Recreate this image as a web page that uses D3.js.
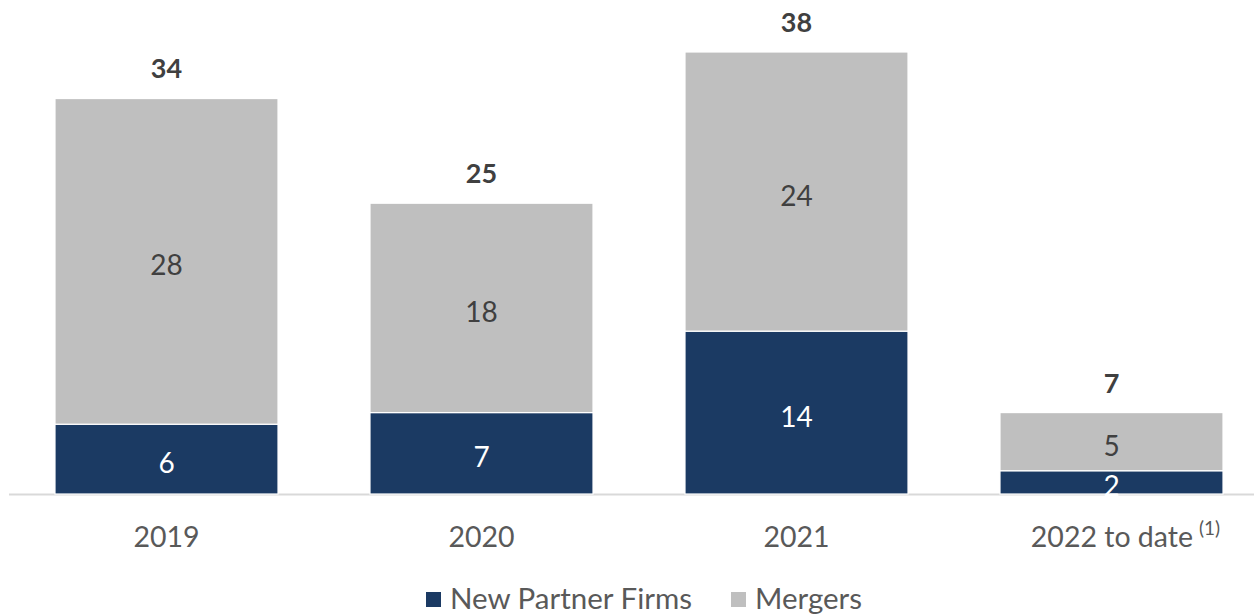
<!DOCTYPE html>
<html>
<head>
<meta charset="utf-8">
<script src="https://cdn.jsdelivr.net/npm/d3@7"></script>
<style>
  html, body { margin: 0; padding: 0; background: #fff; }
  svg { display: block; }
  text { font-family: Lato, "Open Sans", sans-serif; }
</style>
</head>
<body>
<div id="chart"></div>
<script>
const categories = ["2019", "2020", "2021", "2022 to date"];
const categoryNotes = ["", "", "", "(1)"];
const newPartnerFirms = [6, 7, 14, 2];
const mergers = [28, 18, 24, 5];
const seriesNames = ["New Partner Firms", "Mergers"];
const seriesColors = ["#1b3a63", "#bfbfbf"];

const W = 1254, H = 616;
const svg = d3.select("#chart").append("svg").attr("width", W).attr("height", H);

const x = d3.scaleBand().domain(categories).range([9, 1269]).paddingInner(0.292).paddingOuter(0.146);
const y = d3.scaleLinear().domain([0, 38]).range([494, 52]);

const data = categories.map((c, i) => ({ cat: c, note: categoryNotes[i], npf: newPartnerFirms[i], mer: mergers[i] }));
const stack = d3.stack().keys(["npf", "mer"])(data);

// axis line
svg.append("line").attr("x1", 9).attr("x2", W).attr("y1", y(0) + 0.5).attr("y2", y(0) + 0.5)
  .attr("stroke", "#d9d9d9").attr("stroke-width", 2);

const groups = svg.selectAll("g.series").data(stack).enter().append("g").attr("class", "series")
  .attr("fill", (d, i) => seriesColors[i]);

groups.selectAll("rect").data(d => d).enter().append("rect")
  .attr("x", d => x(d.data.cat))
  .attr("width", x.bandwidth())
  .attr("y", d => y(d[1]))
  .attr("height", d => y(d[0]) - y(d[1]))
  .attr("stroke", "#fff").attr("stroke-width", 1.2);

// segment labels
stack.forEach((s, si) => {
  svg.selectAll(null).data(s).enter().append("text")
    .attr("x", d => x(d.data.cat) + x.bandwidth() / 2)
    .attr("y", d => (y(d[0]) + y(d[1])) / 2 + 7)
    .attr("text-anchor", "middle").attr("dominant-baseline", "middle")
    .attr("font-size", 28)
    .attr("fill", si === 0 ? "#ffffff" : "#404040")
    .text(d => d[1] - d[0]);
});

// totals
svg.selectAll(null).data(data).enter().append("text")
  .attr("x", d => x(d.cat) + x.bandwidth() / 2)
  .attr("y", d => y(d.npf + d.mer) - 27)
  .attr("text-anchor", "middle").attr("dominant-baseline", "middle")
  .attr("font-size", 27).attr("font-weight", "bold").attr("fill", "#404040")
  .text(d => d.npf + d.mer);

// x axis labels
const xl = svg.selectAll(null).data(data).enter().append("text")
  .attr("x", d => x(d.cat) + x.bandwidth() / 2 + (d.note ? 14 : 0))
  .attr("y", 547)
  .attr("text-anchor", "middle")
  .attr("font-size", 28.5).attr("fill", "#595959");
xl.append("tspan").text(d => d.cat);
xl.filter(d => d.note).append("tspan").attr("dx", 6).attr("dy", -12).attr("font-size", 19).text(d => d.note);

// legend
const legend = [{ name: seriesNames[0], color: seriesColors[0], x: 426 }, { name: seriesNames[1], color: seriesColors[1], x: 731 }];
const lg = svg.selectAll("g.leg").data(legend).enter().append("g").attr("class", "leg")
  .attr("transform", d => `translate(${d.x},0)`);
lg.append("rect").attr("x", 0).attr("y", 592).attr("width", 15).attr("height", 15).attr("fill", d => d.color);
lg.append("text").attr("x", 24).attr("y", 609).attr("font-size", 29.5).attr("fill", "#595959").text(d => d.name);
</script>
</body>
</html>
